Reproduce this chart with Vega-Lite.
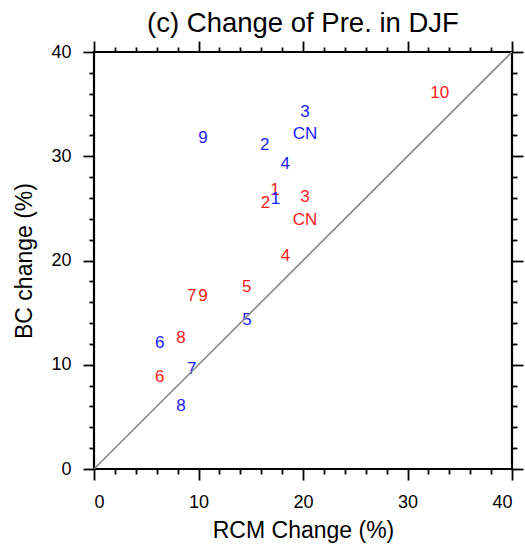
{
  "$schema": "https://vega.github.io/schema/vega-lite/v6.json",
  "width": 418,
  "height": 417,
  "autosize": {"type": "none"},
  "padding": {"left": 94, "top": 52, "right": 13, "bottom": 79},
  "title": {"text": "(c) Change of Pre. in DJF", "font": "Liberation Sans", "fontSize": 27.5, "fontWeight": "normal", "color": "black", "offset": 3, "anchor": "middle"},
  "config": {
    "view": {"stroke": "black", "strokeWidth": 2.2},
    "axis": {"grid": false, "domain": false, "tickColor": "black", "tickWidth": 1.8, "labelFont": "Liberation Sans", "labelColor": "black", "titleFont": "Liberation Sans", "titleColor": "black", "titleFontWeight": "normal"}
  },
  "datasets": {
    "labels": [
      {"rcm": 33.08, "bc": 36.07, "label": "10", "series": "red"},
      {"rcm": 20.19, "bc": 34.21, "label": "3", "series": "blue"},
      {"rcm": 20.19, "bc": 32.12, "label": "CN", "series": "blue"},
      {"rcm": 10.42, "bc": 31.73, "label": "9", "series": "blue"},
      {"rcm": 16.35, "bc": 31.09, "label": "2", "series": "blue"},
      {"rcm": 18.30, "bc": 29.23, "label": "4", "series": "blue"},
      {"rcm": 17.31, "bc": 26.75, "label": "1", "series": "red"},
      {"rcm": 17.37, "bc": 25.94, "label": "1", "series": "blue"},
      {"rcm": 16.41, "bc": 25.56, "label": "2", "series": "red"},
      {"rcm": 20.19, "bc": 26.10, "label": "3", "series": "red"},
      {"rcm": 20.19, "bc": 23.86, "label": "CN", "series": "red"},
      {"rcm": 18.33, "bc": 20.42, "label": "4", "series": "red"},
      {"rcm": 14.61, "bc": 17.43, "label": "5", "series": "red"},
      {"rcm": 9.36, "bc": 16.62, "label": "7", "series": "red"},
      {"rcm": 10.42, "bc": 16.62, "label": "9", "series": "red"},
      {"rcm": 14.65, "bc": 14.31, "label": "5", "series": "blue"},
      {"rcm": 6.28, "bc": 12.12, "label": "6", "series": "blue"},
      {"rcm": 8.33, "bc": 12.60, "label": "8", "series": "red"},
      {"rcm": 9.36, "bc": 9.55, "label": "7", "series": "blue"},
      {"rcm": 6.28, "bc": 8.81, "label": "6", "series": "red"},
      {"rcm": 8.33, "bc": 6.01, "label": "8", "series": "blue"}
    ],
    "diag": [
      {"rcm": 0, "bc": 0},
      {"rcm": 40, "bc": 40}
    ]
  },
  "resolve": {"axis": {"x": "independent", "y": "independent"}},
  "layer": [
    {
      "data": {"name": "labels"},
      "mark": {"type": "text", "font": "Liberation Sans", "fontSize": 17, "align": "center", "baseline": "middle"},
      "encoding": {
        "x": {"field": "rcm", "type": "quantitative", "scale": {"domain": [0, 40], "nice": false, "zero": false},
              "axis": {"orient": "bottom", "values": [0, 10, 20, 30, 40], "tickSize": 11, "labelFontSize": 18, "labelPadding": 13, "title": "RCM Change (%)", "titleFontSize": 23, "titlePadding": 8}},
        "y": {"field": "bc", "type": "quantitative", "scale": {"domain": [0, 40], "nice": false, "zero": false},
              "axis": {"orient": "left", "values": [0, 10, 20, 30, 40], "tickSize": 11, "labelFontSize": 18, "labelPadding": 12, "title": "BC change (%)", "titleFontSize": 23, "titlePadding": 14}},
        "text": {"field": "label", "type": "nominal"},
        "color": {"field": "series", "type": "nominal", "scale": {"domain": ["red", "blue"], "range": ["#ff1a1a", "#1a1aff"]}, "legend": null}
      }
    },
    {
      "data": {"name": "diag"},
      "mark": {"type": "line", "color": "#888888", "strokeWidth": 1.6},
      "encoding": {
        "x": {"field": "rcm", "type": "quantitative", "axis": {"orient": "bottom", "values": [2, 4, 6, 8, 12, 14, 16, 18, 22, 24, 26, 28, 32, 34, 36, 38], "tickSize": 5, "labels": false, "title": null}},
        "y": {"field": "bc", "type": "quantitative", "axis": {"orient": "left", "values": [2, 4, 6, 8, 12, 14, 16, 18, 22, 24, 26, 28, 32, 34, 36, 38], "tickSize": 5, "labels": false, "title": null}}
      }
    },
    {
      "data": {"name": "diag"},
      "mark": {"type": "point", "opacity": 0},
      "encoding": {
        "x": {"field": "rcm", "type": "quantitative", "axis": {"orient": "top", "values": [0, 10, 20, 30, 40], "tickSize": 11, "labels": false, "title": null}},
        "y": {"field": "bc", "type": "quantitative", "axis": {"orient": "right", "values": [0, 10, 20, 30, 40], "tickSize": 11, "labels": false, "title": null}}
      }
    },
    {
      "data": {"name": "diag"},
      "mark": {"type": "point", "opacity": 0},
      "encoding": {
        "x": {"field": "rcm", "type": "quantitative", "axis": {"orient": "top", "values": [2, 4, 6, 8, 12, 14, 16, 18, 22, 24, 26, 28, 32, 34, 36, 38], "tickSize": 5, "labels": false, "title": null}},
        "y": {"field": "bc", "type": "quantitative", "axis": {"orient": "right", "values": [2, 4, 6, 8, 12, 14, 16, 18, 22, 24, 26, 28, 32, 34, 36, 38], "tickSize": 5, "labels": false, "title": null}}
      }
    }
  ]
}
